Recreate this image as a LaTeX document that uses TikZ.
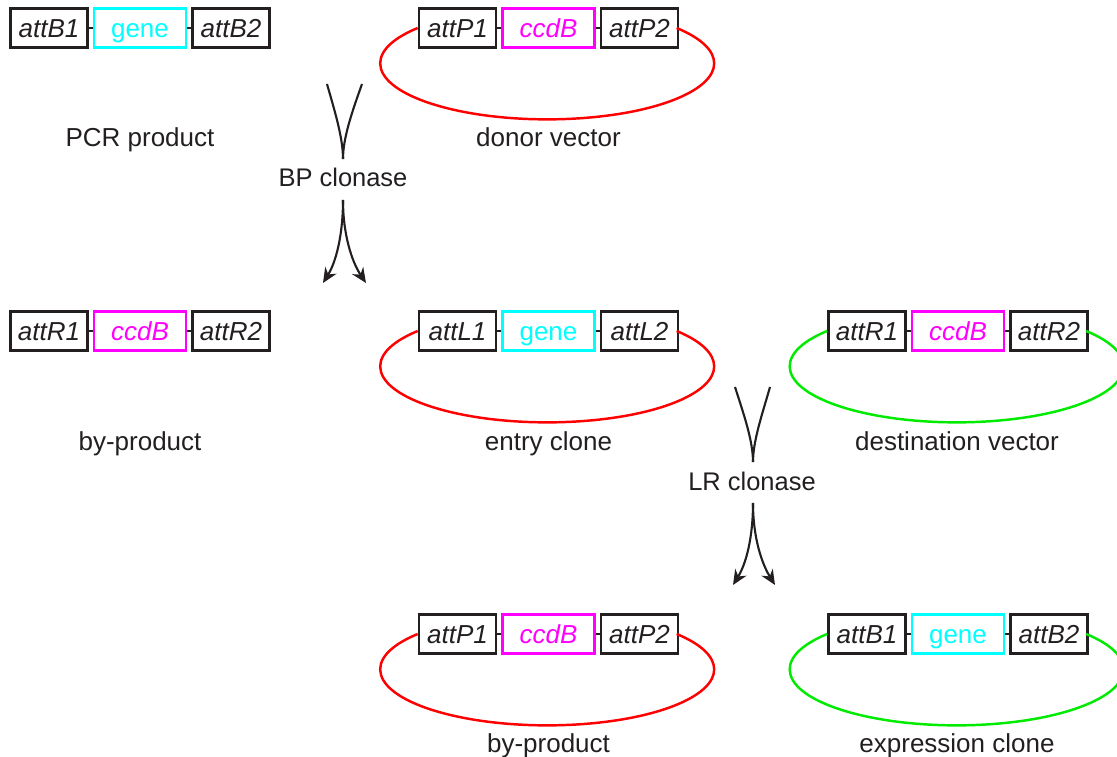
\documentclass[tikz,border=0pt]{standalone}
\usepackage{fontspec}
\setmainfont{Liberation Sans}
\usetikzlibrary{arrows.meta}

\definecolor{ink}{HTML}{231F20}
\definecolor{genecyan}{RGB}{0,255,255}
\definecolor{ccdbmag}{RGB}{255,0,255}
\definecolor{vecred}{RGB}{255,0,0}
\definecolor{vecgreen}{RGB}{0,235,0}

\tikzset{
  sitebox/.style={line width=1.5pt, fill=white, minimum height=0.78cm, inner sep=0pt,
    text height=10.6pt, text depth=0pt},
  attbox/.style={sitebox, draw=ink, minimum width=1.54cm, text=ink,
    font=\fontsize{14.8}{17}\selectfont\itshape},
  midbox/.style={sitebox, draw=#1, minimum width=1.84cm, text=#1,
    font=\fontsize{14.8}{17}\selectfont},
  genebox/.style={midbox=genecyan},
  ccdbox/.style={midbox=ccdbmag, font=\fontsize{14.8}{17}\selectfont\itshape},
  link/.style={draw=ink, line width=1.5pt},
  plasmid/.style={line width=1.4pt},
  caption/.style={text=ink, font=\fontsize{14.8}{17}\selectfont, anchor=base, inner sep=0pt},
  enzyme/.style={text=ink, font=\fontsize{14.5}{17}\selectfont, anchor=base, inner sep=0pt},
  flow/.style={draw=ink, line width=1.2pt},
  flowtip/.style={flow, -{Stealth[length=8.5pt, width=7.5pt]}},
}

% three-part cassette: name, centre x, mid y, left site, middle text, middle style, right site
\newcommand\cassette[7]{%
  \node[attbox] (#1a) at ({#2-91},#3) {#4};
  \node[#6] (#1b) at (#2,#3) {#5};
  \node[attbox] (#1c) at ({#2+91},#3) {#7};
  \draw[link] (#1a.east) -- (#1b.west);
  \draw[link] (#1b.east) -- (#1c.west);
}
% backbone of a circular vector, from the left site round to the right site
\newcommand\backbone[2]{%
  \draw[plasmid, #2] (#1a.west) arc[start angle=219.16, end angle=-39.16, x radius=167, y radius=56];
}

\begin{document}
\begin{tikzpicture}[x=0.02cm, y=-0.02cm]
\useasboundingbox (0,0) rectangle (1117,757);
\clip (0,0) rectangle (1117,757);

% first row: PCR product and donor vector
\cassette{pcr}{140}{28}{attB1}{gene}{genebox}{attB2}
\cassette{don}{548.5}{28}{attP1}{ccdB}{ccdbox}{attP2}
\backbone{don}{vecred}
\node[caption] (pcrlab) at (140,147) {PCR product};
\node[caption] (donlab) at (548.5,147) {donor vector};

% BP reaction
\node[enzyme] (bp) at (343,187) {BP clonase};
\coordinate (bpinl) at (327,84);
\coordinate (bpinr) at (362,84);
\coordinate (bpjoin) at (343,159);
\coordinate (bpsplit) at (343,200);
\coordinate (bpoutl) at (323,283);
\coordinate (bpoutr) at (366,283);
\draw[flow] (bpinl) .. controls (335,112) and (343,138) .. (bpjoin);
\draw[flow] (bpinr) .. controls (352,112) and (343,138) .. (bpjoin);
\draw[flowtip] (bpsplit) .. controls (343,235) and (336,262) .. (bpoutl);
\draw[flowtip] (bpsplit) .. controls (343,235) and (352,262) .. (bpoutr);

% second row: by-product, entry clone, destination vector
\cassette{byp}{140}{331}{attR1}{ccdB}{ccdbox}{attR2}
\cassette{ent}{548.5}{331}{attL1}{gene}{genebox}{attL2}
\cassette{dst}{958}{331}{attR1}{ccdB}{ccdbox}{attR2}
\backbone{ent}{vecred}
\backbone{dst}{vecgreen}
\node[caption] (byplab) at (140,450) {by-product};
\node[caption] (entlab) at (548.5,450) {entry clone};
\node[caption] (dstlab) at (957,450) {destination vector};

% LR reaction
\node[enzyme] (lr) at (752,490) {LR clonase};
\coordinate (lrinl) at (735,387);
\coordinate (lrinr) at (770,387);
\coordinate (lrjoin) at (753,462);
\coordinate (lrsplit) at (753,503);
\coordinate (lroutl) at (733,585);
\coordinate (lroutr) at (775,585);
\draw[flow] (lrinl) .. controls (744,415) and (753,441) .. (lrjoin);
\draw[flow] (lrinr) .. controls (762,415) and (753,441) .. (lrjoin);
\draw[flowtip] (lrsplit) .. controls (753,538) and (746,564) .. (lroutl);
\draw[flowtip] (lrsplit) .. controls (753,538) and (762,564) .. (lroutr);

% third row: by-product and expression clone
\cassette{bp2}{548.5}{634}{attP1}{ccdB}{ccdbox}{attP2}
\cassette{exp}{958}{634}{attB1}{gene}{genebox}{attB2}
\backbone{bp2}{vecred}
\backbone{exp}{vecgreen}
\node[caption] (bp2lab) at (548.5,752) {by-product};
\node[caption] (explab) at (957,752) {expression clone};
\end{tikzpicture}
\end{document}
